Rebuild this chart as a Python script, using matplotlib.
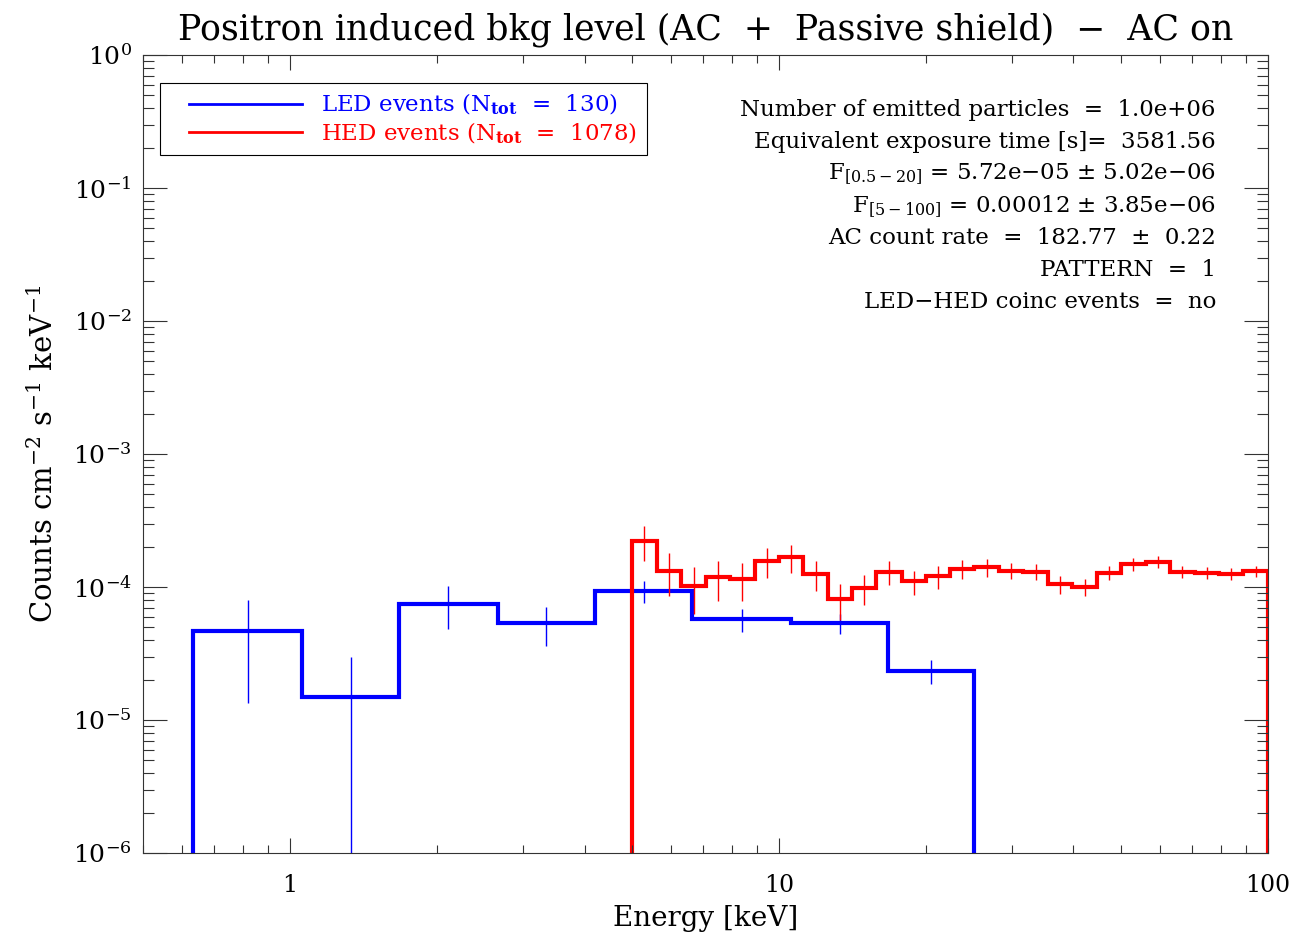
import numpy as np
import matplotlib
matplotlib.use("Agg")
import matplotlib.pyplot as plt
from matplotlib.lines import Line2D
from matplotlib.legend_handler import HandlerLine2D

plt.rcParams.update({
    "font.family": ["DejaVu Serif"],
    "mathtext.fontset": "dejavuserif",
    "axes.linewidth": 0.8,
    "axes.edgecolor": "#333333",
})

# LED spectrum (blue): bin edges [keV], rates and 1-sigma errors
led_edges = [0.633, 1.057, 1.672, 2.657, 4.20, 6.65, 10.59, 16.7, 25.1]
led_vals = [4.70e-5, 1.49e-5, 7.46e-5, 5.34e-5, 9.39e-5, 5.72e-5, 5.34e-5, 2.34e-5]
led_errs = [3.35e-5, 1.49e-5, 2.65e-5, 1.75e-5, 1.80e-5, 1.13e-5, 0.89e-5, 0.47e-5]

# HED spectrum (red)
hed_edges = [5.0, 5.62, 6.31, 7.08, 7.94, 8.91, 10.0, 11.2, 12.6, 14.1, 15.8,
             17.8, 20.0, 22.4, 25.1, 28.2, 31.6, 35.5, 39.8, 44.7, 50.1, 56.2,
             63.1, 70.8, 79.4, 89.1, 100.0]
hed_vals = [2.22e-4, 1.32e-4, 1.02e-4, 1.18e-4, 1.15e-4, 1.57e-4, 1.68e-4,
            1.25e-4, 8.13e-5, 9.88e-5, 1.30e-4, 1.10e-4, 1.21e-4, 1.37e-4,
            1.41e-4, 1.33e-4, 1.30e-4, 1.05e-4, 1.00e-4, 1.28e-4, 1.48e-4,
            1.55e-4, 1.30e-4, 1.28e-4, 1.25e-4, 1.32e-4]
hed_errs = [6.5e-5, 4.7e-5, 3.9e-5, 3.9e-5, 3.7e-5, 4.0e-5, 4.0e-5, 3.1e-5,
            2.45e-5, 2.5e-5, 2.7e-5, 2.3e-5, 2.4e-5, 2.3e-5, 2.2e-5, 1.9e-5,
            1.8e-5, 1.65e-5, 1.5e-5, 1.6e-5, 1.6e-5, 1.6e-5, 1.4e-5, 1.3e-5,
            1.3e-5, 1.25e-5]

info_lines = [
    "Number of emitted particles  =  1.0e+06",
    "Equivalent exposure time [s]=  3581.56",
    "F$_{[0.5\u221220]}$ = 5.72e\u221205 \u00b1 5.02e\u221206",
    "F$_{[5\u2212100]}$ = 0.00012 \u00b1 3.85e\u221206",
    "AC count rate  =  182.77  \u00b1  0.22",
    "PATTERN  =  1",
    "LED\u2212HED coinc events  =  no",
]

fig = plt.figure(figsize=(12.96, 9.36), dpi=100)
ax = fig.add_axes([143 / 1296, 1 - 853 / 936, 1125 / 1296, 798 / 936])
ax.set_xscale("log")
ax.set_yscale("log")

for edges, vals, errs, col in [(led_edges, led_vals, led_errs, "#0000ff"),
                               (hed_edges, hed_vals, hed_errs, "#ff0000")]:
    e = np.array(edges)
    ax.stairs(vals, e, baseline=1e-9, color=col, lw=3.0)
    centres = np.sqrt(e[:-1] * e[1:])
    ax.errorbar(centres, vals, yerr=errs, fmt="none", ecolor=col, elinewidth=1.0)

ax.set_xlim(0.5, 100)
ax.set_ylim(1e-6, 1)

ax.tick_params(which="both", direction="in", top=True, right=True,
               colors="#333333", labelcolor="black")
ax.tick_params(axis="x", which="major", length=11, width=0.8, pad=15, labelsize=17)
ax.tick_params(axis="x", which="minor", length=6, width=0.8)
ax.tick_params(axis="y", which="major", length=17, width=0.8, pad=8, labelsize=18)
ax.tick_params(axis="y", which="minor", length=8, width=0.8)
ax.xaxis.set_major_formatter(matplotlib.ticker.FuncFormatter(lambda v, p: f"{v:g}"))
ax.xaxis.set_minor_formatter(matplotlib.ticker.NullFormatter())
ax.yaxis.set_minor_locator(matplotlib.ticker.LogLocator(base=10, subs=np.arange(2, 10), numticks=20))

ax.set_title("Positron induced bkg level (AC  +  Passive shield)  \u2212  AC on",
             fontsize=25, pad=11)
ax.set_xlabel("Energy [keV]", fontsize=20, labelpad=6)
ax.set_ylabel("Counts cm$^{-2}$ s$^{-1}$ keV$^{-1}$", fontsize=21, labelpad=10)

handles = [Line2D([], [], color="#0000ff", lw=2),
           Line2D([], [], color="#ff0000", lw=2)]
labels = ["LED events (N$_{\\mathbf{tot}}$  =  130)",
          "HED events (N$_{\\mathbf{tot}}$  =  1078)"]
leg = ax.legend(handles, labels, loc="upper left", bbox_to_anchor=(0.015, 0.965),
                fontsize=16.5, handlelength=5.8, handletextpad=0.85,
                labelspacing=0.15, borderpad=0.4, fancybox=False,
                framealpha=1, edgecolor="black", labelcolor="linecolor",
                borderaxespad=0,
                handler_map={Line2D: HandlerLine2D(xpad=0.85)})
leg.get_frame().set_linewidth(0.8)

y0 = (853 - 110) / 798
dy = 32 / 798
for i, line in enumerate(info_lines):
    ax.text((1216 - 143) / 1125, y0 - i * dy, line, transform=ax.transAxes,
            ha="right", va="center", fontsize=16.5)

fig.savefig("out.png", dpi=100)
